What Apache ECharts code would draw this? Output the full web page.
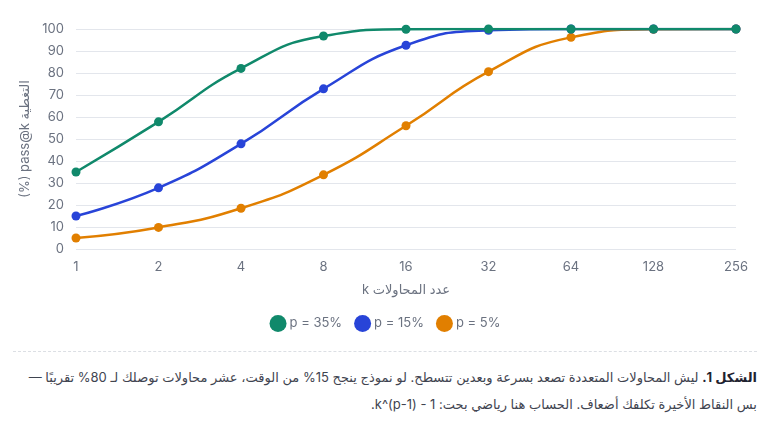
<!DOCTYPE html>
<html>
<head>
<meta charset="utf-8">
<script src="https://cdn.jsdelivr.net/npm/echarts@6/dist/echarts.min.js"></script>
<style>
  html, body { margin: 0; padding: 0; background: #fff; }
  #chart { width: 770px; height: 345px; }
  .caption {
    margin: 6px 13px 0 13px;
    border-top: 1px dashed #dcdfe4;
    padding-top: 12px;
    direction: rtl;
    text-align: right;
    font-family: Inter, "DejaVu Sans", sans-serif;
    font-size: 13px;
    line-height: 27px;
    color: #3f4450;
  }
  .caption b { color: #1f2330; }
</style>
</head>
<body>
<div id="chart"></div>
<div class="caption"><b>الشكل 1.</b> ليش المحاولات المتعددة تصعد بسرعة وبعدين تتسطح. لو نموذج ينجح 15% من الوقت، عشر محاولات توصلك لـ 80% تقريبًا — بس النقاط الأخيرة تكلفك أضعاف. الحساب هنا رياضي بحت: 1 - (1-p)^k.</div>
<script>
// عدد المحاولات k
var attempts = ['1', '2', '4', '8', '16', '32', '64', '128', '256'];

// pass@k (%) لكل قيمة p
var p35 = [35, 57.8, 82.1, 96.8, 99.9, 100, 100, 100, 100];
var p15 = [15, 27.8, 47.8, 72.8, 92.6, 99.4, 100, 100, 100];
var p5 = [5, 9.8, 18.5, 33.7, 56, 80.6, 96.2, 99.9, 100];

var seriesNames = ['p = 35%', 'p = 15%', 'p = 5%'];
var colors = ['#10896b', '#2844d8', '#e17f00'];

var myChart = echarts.init(document.getElementById('chart'));

var labelColor = '#6b7280';
var font = 'Inter, "DejaVu Sans", sans-serif';
// نص عربي داخل الكانفس: تضمين من اليمين لليسار
function rtl(s) { return '\u202B' + s + '\u202C'; }

function line(name, data, color, z) {
    return {
        name: name,
        type: 'line',
        data: data,
        smooth: true,
        z: z,
        symbol: 'circle',
        symbolSize: 9,
        lineStyle: { width: 2.5, color: color },
        itemStyle: { color: color }
    };
}

option = {
    color: colors,
    textStyle: { fontFamily: font },
    grid: { left: 76, right: 34, top: 29, bottom: 96 },
    legend: {
        data: seriesNames,
        bottom: 8,
        left: 'center',
        icon: 'circle',
        itemWidth: 17,
        itemHeight: 17,
        itemGap: 12,
        textStyle: { color: labelColor, fontSize: 13, fontFamily: font, padding: [0, 0, 0, -2] }
    },
    xAxis: {
        type: 'category',
        data: attempts,
        boundaryGap: false,
        name: rtl('عدد المحاولات k'),
        nameLocation: 'middle',
        nameGap: 35,
        nameTextStyle: { color: labelColor, fontSize: 13, fontFamily: font },
        axisLine: { show: false },
        axisTick: { show: false },
        axisLabel: { color: labelColor, fontSize: 13, margin: 12 }
    },
    yAxis: {
        type: 'value',
        min: 0,
        max: 100,
        interval: 10,
        name: rtl('التغطية pass@k (%)'),
        nameLocation: 'middle',
        nameGap: 37,
        nameTextStyle: { color: labelColor, fontSize: 13, fontFamily: font },
        axisLine: { show: false },
        axisTick: { show: false },
        axisLabel: { color: labelColor, fontSize: 13, margin: 12 },
        splitLine: { lineStyle: { color: '#e3e6ec' } }
    },
    series: [
        line(seriesNames[2], p5, colors[2], 2),
        line(seriesNames[1], p15, colors[1], 3),
        line(seriesNames[0], p35, colors[0], 4)
    ]
};

myChart.setOption(option);
</script>
</body>
</html>
